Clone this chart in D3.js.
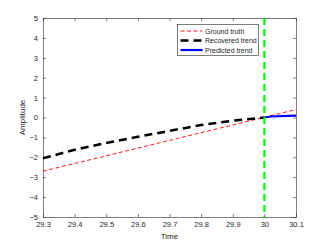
<!DOCTYPE html>
<html>
<head>
<meta charset="UTF-8" />
<script src="https://d3js.org/d3.v7.min.js"></script>
<style>
  body { margin: 0; background: #fff; }
  svg { font-family: "Liberation Sans", Arial, sans-serif; }
</style>
</head>
<body>
<div id="chart"></div>
<script>
  // data
  const groundTime = [29.3, 30.1];
  const groundAmp = [-2.7, 0.4];
  const recTime = [29.3, 29.4, 29.5, 29.6, 29.7, 29.8, 29.9, 30.0];
  const recAmp = [-2.05, -1.62, -1.28, -0.97, -0.67, -0.38, -0.16, 0.0];
  const predTime = [30.0, 30.02, 30.05, 30.1];
  const predAmp = [0.0, 0.05, 0.07, 0.09];
  const splitTime = 30;
  const xTicks = [29.3, 29.4, 29.5, 29.6, 29.7, 29.8, 29.9, 30, 30.1];
  const yTicks = [-5, -4, -3, -2, -1, 0, 1, 2, 3, 4, 5];
  const legendLabels = ["Ground truth", "Recovered trend", "Predicted trend"];

  const W = 327, H = 245;
  const margin = { top: 18, right: 31, bottom: 28, left: 43 };
  const width = W - margin.left - margin.right;
  const height = H - margin.top - margin.bottom;

  const svg = d3.select("#chart").append("svg")
    .attr("width", W).attr("height", H);
  const g = svg.append("g")
    .attr("transform", `translate(${margin.left},${margin.top})`);

  const x = d3.scaleLinear().domain([29.3, 30.1]).range([0, width]);
  const y = d3.scaleLinear().domain([-5, 5]).range([height, 0]);

  const axisColor = "#262626";

  // axes, ticks inside like matlab
  const fmt = d => (Math.round(d * 10) / 10).toString();
  const axes = [
    [d3.axisBottom(x).tickValues(xTicks).tickFormat(fmt).tickSizeInner(-3), `translate(0,${height})`, true],
    [d3.axisTop(x).tickValues(xTicks).tickFormat("").tickSizeInner(-3), null, false],
    [d3.axisLeft(y).tickValues(yTicks).tickFormat(d3.format("d")).tickSizeInner(-3), null, true],
    [d3.axisRight(y).tickValues(yTicks).tickFormat("").tickSizeInner(-3), `translate(${width},0)`, false]
  ];
  axes.forEach(([ax, tr, lab]) => {
    const a = g.append("g").call(ax.tickSizeOuter(0).tickPadding(5));
    if (tr) a.attr("transform", tr);
    a.select(".domain").attr("stroke", axisColor).attr("stroke-width", 0.6);
    a.selectAll(".tick line").attr("stroke", axisColor).attr("stroke-width", 0.6);
    a.selectAll("text").attr("fill", axisColor).style("font-size", "7.5px");
  });

  const line = d3.line().x(d => x(d[0])).y(d => y(d[1]));

  g.append("path")
    .datum(groundTime.map((t, i) => [t, groundAmp[i]]))
    .attr("fill", "none").attr("stroke", "#ff0000").attr("stroke-width", 0.9)
    .attr("stroke-dasharray", "4,2.5").attr("d", line);

  g.append("path")
    .datum(recTime.map((t, i) => [t, recAmp[i]]))
    .attr("fill", "none").attr("stroke", "#000").attr("stroke-width", 2.6)
    .attr("stroke-dasharray", "8,5").attr("d", line);

  g.append("path")
    .datum(predTime.map((t, i) => [t, predAmp[i]]))
    .attr("fill", "none").attr("stroke", "#0000ff").attr("stroke-width", 2.2)
    .attr("d", line);

  g.append("line")
    .attr("x1", x(splitTime)).attr("x2", x(splitTime))
    .attr("y1", 0).attr("y2", height)
    .attr("stroke", "#00ff00").attr("stroke-width", 2.2)
    .attr("stroke-dasharray", "7,4");

  // legend
  const lg = svg.append("g").attr("transform", "translate(177.5,24.5)");
  lg.append("rect").attr("width", 81).attr("height", 31)
    .attr("fill", "#fff").attr("stroke", axisColor).attr("stroke-width", 0.6);
  const styles = [
    { c: "#ff0000", w: 0.9, d: "4,2.5" },
    { c: "#000", w: 2.6, d: "8,5" },
    { c: "#0000ff", w: 2.2, d: null }
  ];
  legendLabels.forEach((l, i) => {
    const yy = 6.5 + i * 9.5;
    lg.append("line").attr("x1", 3).attr("x2", 25).attr("y1", yy).attr("y2", yy)
      .attr("stroke", styles[i].c).attr("stroke-width", styles[i].w)
      .attr("stroke-dasharray", styles[i].d);
    lg.append("text").attr("x", 27.5).attr("y", yy + 2.5)
      .style("font-size", "7px").attr("fill", axisColor).text(l);
  });

  svg.append("text")
    .attr("x", margin.left + width / 2).attr("y", 239)
    .attr("text-anchor", "middle").style("font-size", "8px").attr("fill", axisColor)
    .text("Time");

  svg.append("text")
    .attr("transform", `translate(25,${margin.top + height / 2}) rotate(-90)`)
    .attr("text-anchor", "middle").style("font-size", "8px").attr("fill", axisColor)
    .text("Amplitude");
</script>
</body>
</html>
